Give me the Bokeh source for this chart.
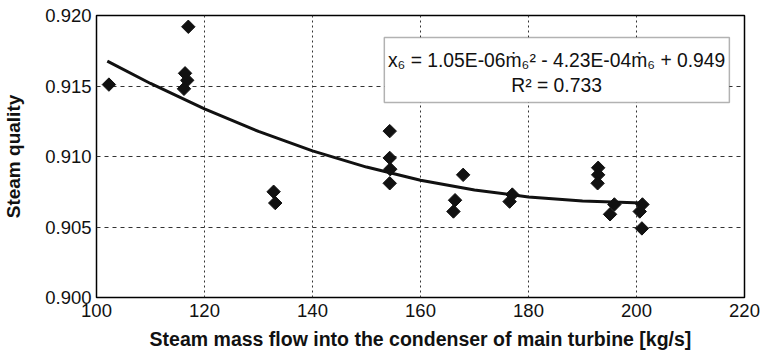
import numpy as np
from bokeh.plotting import figure
from bokeh.models import FixedTicker, NumeralTickFormatter, Label, BoxAnnotation, Range1d
from bokeh.embed import file_html
from bokeh.resources import INLINE

# measured points: steam mass flow [kg/s] and steam quality
flow = [102.3, 117.0, 116.4, 116.8, 116.2, 132.8, 133.1, 154.3, 154.3, 154.4,
        154.3, 166.4, 166.1, 167.9, 176.5, 177.0, 192.9, 192.9, 192.8, 195.9,
        195.1, 201.1, 200.6, 201.0]
quality = [0.9151, 0.9192, 0.9159, 0.9154, 0.9148, 0.9075, 0.9067, 0.9118, 0.9099, 0.9091,
           0.9081, 0.9069, 0.9061, 0.9087, 0.9068, 0.9073, 0.9092, 0.9087, 0.9081, 0.9066,
           0.9059, 0.9066, 0.9061, 0.9049]

# polynomial trend line
trend_x = [102, 110, 120, 130, 140, 150, 160, 170, 180, 190, 201]
trend_y = [0.91676, 0.91518, 0.91338, 0.91178, 0.91040, 0.90925, 0.90832,
           0.90762, 0.90713, 0.90685, 0.90670]

equation_text = "x\u2086 = 1.05E-06\u1e41\u2086\u00b2 - 4.23E-04\u1e41\u2086 + 0.949"
r2_text = "R\u00b2 = 0.733"

x_ticks = [100, 120, 140, 160, 180, 200, 220]
y_ticks = [0.900, 0.905, 0.910, 0.915, 0.920]

FONT = "Liberation Sans"
INK = "#111111"

p = figure(width=761, height=358, output_backend="svg", toolbar_location=None,
           x_range=Range1d(100, 220), y_range=Range1d(0.900, 0.920),
           min_border_left=96, min_border_right=17, min_border_top=15, min_border_bottom=61)
p.background_fill_color = "white"
p.border_fill_color = "white"
p.outline_line_color = "black"
p.outline_line_width = 1.5

for ax in (p.xaxis[0], p.yaxis[0]):
    ax.major_tick_in = 0
    ax.major_tick_out = 0
    ax.minor_tick_in = 0
    ax.minor_tick_out = 0
    ax.axis_line_color = None
    ax.major_label_text_font = FONT
    ax.major_label_text_font_size = "18.5px"
    ax.major_label_text_color = INK
    ax.axis_label_text_font = FONT
    ax.axis_label_text_font_style = "bold"
    ax.axis_label_text_color = INK

p.xaxis.axis_label_text_font_size = "19.5px"
p.yaxis.axis_label_text_font_size = "19px"
p.xaxis.ticker = FixedTicker(ticks=x_ticks)
p.yaxis.ticker = FixedTicker(ticks=y_ticks)
p.yaxis.formatter = NumeralTickFormatter(format="0.000")
p.xaxis.axis_label = "Steam mass flow into the condenser of main turbine [kg/s]"
p.yaxis.axis_label = "Steam quality"
p.xaxis.major_label_standoff = 6
p.xaxis.axis_label_standoff = 8
p.yaxis.major_label_standoff = 5
p.yaxis.axis_label_standoff = 18

p.xgrid.grid_line_color = "#333333"
p.xgrid.grid_line_dash = "2 3"
p.xgrid.grid_line_width = 1
p.ygrid.grid_line_color = "#333333"
p.ygrid.grid_line_dash = "4 4"
p.ygrid.grid_line_width = 1

# trend line
p.line(trend_x, trend_y, line_color=INK, line_width=3)

# points (diamonds)
p.scatter(flow, quality, marker="square", angle=np.pi / 4, size=9.5,
          fill_color=INK, line_color=INK)

# equation box
box = BoxAnnotation(left=153.3, right=217.2, bottom=0.91383, top=0.91844,
                    fill_color="white", fill_alpha=1.0, line_color="black", line_width=1.5)
p.add_layout(box)
eq = Label(x=185.2, y=0.91682, text=equation_text,
           text_align="center", text_baseline="middle", text_font=FONT,
           text_font_size="19.3px", text_color=INK)
r2 = Label(x=185.2, y=0.91505, text=r2_text,
           text_align="center", text_baseline="middle", text_font=FONT,
           text_font_size="19.3px", text_color=INK)
p.add_layout(eq)
p.add_layout(r2)

open("out.html", "w").write(file_html(p, INLINE))
